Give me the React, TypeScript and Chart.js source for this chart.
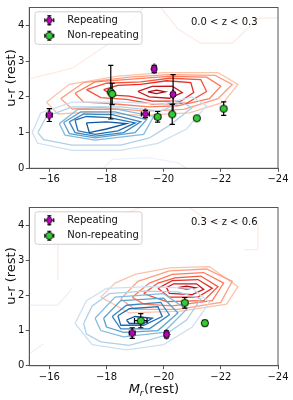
import React, { useEffect, useRef } from 'react';
import { Chart, registerables } from 'chart.js';
Chart.register(...registerables);

type P = [number, number];

const FONT = "'DejaVu Sans', sans-serif";
const MAG = '#bf00bf';
const GRN = '#33cc33';

const xTicks = [-16, -18, -20, -22, -24];
const yTicks = [0, 1, 2, 3, 4];
const legendLabels = ['Repeating', 'Non-repeating'];
const yTitle = 'u-r (rest)';

// ---------- panel 1 (0.0 < z < 0.3) ----------
const p1Note = '0.0 < z < 0.3';
const p1RepX = [-16.0, -19.67, -19.36, -20.33];
const p1RepY = [1.49, 2.78, 1.52, 2.07];
const p1RepErrY = [0.18, 0.1, 0.1, 0.55];
const p1RepErrX = [0.1, 0.08, 0.14, 0.08];
const p1NonX = [-18.15, -18.2, -19.79, -20.3, -21.16, -22.1];
const p1NonY = [2.13, 2.08, 1.44, 1.51, 1.4, 1.67];
const p1NonErrY = [0.75, 0.3, 0.15, 0.28, 0.05, 0.19];
const p1NonErrX = [0.08, 0.08, 0.1, 0.08, 0.08, 0.08];

const p1Red: P[][] = [
  [[-19.45, 2.14], [-19.75, 2.19], [-20.05, 2.14], [-19.75, 2.09], [-19.45, 2.14]],
  [[-19.1, 2.15], [-19.6, 2.29], [-20.3, 2.3], [-20.65, 2.12], [-20.2, 1.96], [-19.5, 2.0], [-19.1, 2.15]],
  [[-17.9, 2.2], [-18.4, 2.32], [-19.2, 2.35], [-20.1, 2.45], [-20.95, 2.4], [-21.05, 2.12], [-20.6, 1.88], [-19.6, 1.88], [-18.8, 2.02], [-18.2, 2.05], [-17.9, 2.2]],
  [[-17.3, 2.2], [-18.0, 2.38], [-19.2, 2.42], [-20.2, 2.52], [-21.3, 2.48], [-21.5, 2.15], [-20.8, 1.82], [-19.6, 1.8], [-18.7, 1.93], [-17.8, 1.98], [-17.3, 2.2]],
  [[-16.9, 2.1], [-17.6, 2.42], [-19.0, 2.5], [-20.2, 2.57], [-21.5, 2.55], [-22.0, 2.3], [-21.6, 1.95], [-20.5, 1.75], [-19.5, 1.72], [-18.0, 1.82], [-17.2, 1.85], [-16.9, 2.1]],
  [[-16.4, 1.95], [-17.2, 2.4], [-18.8, 2.55], [-20.2, 2.62], [-21.8, 2.6], [-22.4, 2.35], [-21.9, 1.95], [-20.7, 1.65], [-19.4, 1.6], [-17.8, 1.7], [-16.8, 1.66], [-16.4, 1.95]],
  [[-15.9, 1.85], [-16.7, 2.35], [-18.4, 2.58], [-20.0, 2.68], [-21.9, 2.68], [-22.6, 2.35], [-22.1, 1.85], [-20.9, 1.55], [-19.2, 1.48], [-17.5, 1.58], [-16.3, 1.52], [-15.9, 1.85]],
];
const p1RedFaint: P[][] = [
  [[-15.3, 2.5], [-16.8, 2.8], [-18.1, 3.5], [-19.3, 4.5]],
  [[-19.9, 4.5], [-20.5, 3.9], [-21.3, 3.5], [-22.4, 3.5], [-23.3, 4.2], [-24.0, 4.2]],
];
const p1Blue: P[][] = [
  [[-17.3, 1.27], [-18.0, 1.3], [-18.7, 1.25], [-18.0, 1.1], [-17.4, 1.0], [-17.3, 1.27]],
  [[-16.9, 1.35], [-17.3, 1.45], [-18.1, 1.42], [-19.0, 1.27], [-18.4, 1.05], [-17.6, 0.95], [-17.0, 1.05], [-16.9, 1.35]],
  [[-16.7, 1.3], [-17.2, 1.52], [-18.2, 1.5], [-19.2, 1.3], [-18.6, 1.0], [-17.6, 0.9], [-16.9, 1.0], [-16.7, 1.3]],
  [[-16.5, 1.28], [-17.1, 1.58], [-18.3, 1.58], [-19.4, 1.36], [-19.0, 1.0], [-17.6, 0.85], [-16.7, 0.97], [-16.5, 1.28]],
  [[-16.35, 1.25], [-17.0, 1.65], [-18.4, 1.65], [-19.65, 1.45], [-19.3, 0.95], [-17.6, 0.79], [-16.55, 0.93], [-16.35, 1.25]],
  [[-15.6, 1.0], [-15.9, 1.45], [-16.8, 1.72], [-18.5, 1.72], [-19.9, 1.6], [-20.6, 1.85], [-21.0, 1.7], [-20.2, 1.2], [-19.5, 0.85], [-18.5, 0.65], [-16.8, 0.65], [-15.8, 0.8], [-15.6, 1.0]],
  [[-15.4, 1.0], [-15.7, 1.55], [-16.8, 1.85], [-18.5, 1.85], [-20.0, 1.8], [-21.0, 2.0], [-21.5, 1.75], [-20.8, 1.1], [-19.8, 0.7], [-18.5, 0.5], [-16.8, 0.5], [-15.6, 0.7], [-15.4, 1.0]],
];
const p1BlueFaint: P[][] = [
  [[-17.9, 0.0], [-18.2, 0.25], [-19.5, 0.3], [-20.5, 0.15], [-20.8, 0.0]],
];

// ---------- panel 2 (0.3 < z < 0.6) ----------
const p2Note = '0.3 < z < 0.6';
const p2RepX = [-18.9, -20.1];
const p2RepY = [0.93, 0.89];
const p2RepErrY = [0.15, 0.1];
const p2RepErrX = [0.1, 0.08];
const p2NonX = [-19.2, -20.74, -21.44];
const p2NonY = [1.28, 1.79, 1.21];
const p2NonErrY = [0.2, 0.15, 0.08];
const p2NonErrX = [0.22, 0.08, 0.08];

const p2Red: P[][] = [
  [[-20.5, 2.22], [-20.8, 2.26], [-21.1, 2.22], [-20.8, 2.18], [-20.5, 2.22]],
  [[-20.1, 2.22], [-20.35, 2.33], [-21.15, 2.33], [-21.4, 2.17], [-21.0, 2.02], [-20.2, 2.06], [-20.1, 2.22]],
  [[-19.8, 2.2], [-20.3, 2.42], [-21.2, 2.45], [-21.7, 2.2], [-21.2, 1.95], [-20.2, 1.95], [-19.8, 2.2]],
  [[-19.3, 2.05], [-19.8, 2.35], [-20.4, 2.5], [-21.3, 2.55], [-21.9, 2.25], [-21.4, 1.85], [-20.1, 1.82], [-19.3, 2.05]],
  [[-18.9, 1.95], [-19.5, 2.35], [-20.3, 2.6], [-21.4, 2.65], [-22.1, 2.35], [-21.7, 1.85], [-20.3, 1.7], [-19.3, 1.75], [-18.9, 1.95]],
  [[-18.5, 1.9], [-19.1, 2.4], [-20.2, 2.7], [-21.5, 2.75], [-22.4, 2.4], [-22.0, 1.8], [-20.5, 1.6], [-19.0, 1.6], [-18.5, 1.9]],
  [[-17.8, 1.95], [-18.3, 2.35], [-19.0, 2.6], [-20.2, 2.78], [-21.6, 2.82], [-22.6, 2.25], [-22.2, 1.75], [-20.6, 1.55], [-18.8, 1.5], [-17.8, 1.95]],
];
const p2RedFaint: P[][] = [
  [[-16.3, 2.45], [-16.3, 3.5], [-17.3, 3.5], [-18.2, 4.2], [-19.2, 4.5]],
  [[-20.9, 4.5], [-21.6, 4.1], [-23.3, 4.1], [-23.3, 3.3], [-22.8, 3.3]],
];
const p2Blue: P[][] = [
  [[-18.7, 1.3], [-19.0, 1.4], [-19.6, 1.35], [-19.3, 1.2], [-18.8, 1.2], [-18.7, 1.3]],
  [[-18.4, 1.42], [-18.8, 1.62], [-19.8, 1.68], [-19.95, 1.4], [-19.3, 1.15], [-18.5, 1.15], [-18.4, 1.42]],
  [[-18.2, 1.4], [-18.7, 1.72], [-19.9, 1.8], [-20.2, 1.45], [-19.5, 1.05], [-18.5, 1.05], [-18.2, 1.4]],
  [[-17.9, 1.35], [-18.5, 1.85], [-20.0, 1.92], [-20.5, 1.5], [-19.8, 1.0], [-18.6, 0.95], [-18.0, 1.1], [-17.9, 1.35]],
  [[-17.6, 1.35], [-18.3, 1.95], [-20.0, 2.05], [-20.8, 1.6], [-20.0, 0.95], [-18.6, 0.82], [-17.8, 1.0], [-17.6, 1.35]],
  [[-17.2, 1.2], [-17.5, 1.7], [-18.1, 2.05], [-19.3, 2.12], [-20.5, 2.1], [-21.3, 1.9], [-20.8, 1.3], [-20.0, 0.85], [-18.8, 0.58], [-17.8, 0.68], [-17.3, 0.9], [-17.2, 1.2]],
  [[-16.9, 1.2], [-17.3, 1.85], [-18.0, 2.2], [-19.5, 2.25], [-21.0, 2.2], [-21.6, 1.8], [-21.0, 1.1], [-20.0, 0.6], [-18.7, 0.45], [-17.5, 0.6], [-16.9, 1.2]],
];
const p2BlueFaint: P[][] = [
  [[-15.3, 1.72], [-16.3, 1.72], [-16.8, 2.2]],
  [[-15.3, 0.34], [-15.8, 0.62]],
];

const REDS = ['#a50f15', '#c9181d', '#e32f27', '#f5553c', '#fb7d5d', '#fca082', '#fcc3ab'];
const BLUES = ['#0c56a0', '#1f6eb3', '#3a87c0', '#5ba2d0', '#85bcdc', '#aed0e7', '#cde0f1'];
const RED_FAINT = '#fdece4';
const BLUE_FAINT = '#ebf2fa';

function makeDiamond(): HTMLCanvasElement {
  const c = document.createElement('canvas');
  c.width = 8; c.height = 11;
  const g = c.getContext('2d')!;
  g.beginPath();
  g.moveTo(4, 0.6); g.lineTo(7.2, 5.5); g.lineTo(4, 10.4); g.lineTo(0.8, 5.5); g.closePath();
  g.fillStyle = MAG; g.fill();
  g.lineWidth = 0.9; g.strokeStyle = '#000'; g.stroke();
  return c;
}
function makeCircle(): HTMLCanvasElement {
  const c = document.createElement('canvas');
  c.width = 10; c.height = 10;
  const g = c.getContext('2d')!;
  g.beginPath(); g.arc(5, 5, 3.6, 0, Math.PI * 2);
  g.fillStyle = GRN; g.fill();
  g.lineWidth = 0.9; g.strokeStyle = '#000'; g.stroke();
  return c;
}

const fmt = (v: number) => (v < 0 ? '\u2212' + Math.abs(v) : String(v));

function poly(points: P[], color: string, order: number) {
  return {
    data: points.map(([x, y]) => ({ x, y })),
    showLine: true, pointRadius: 0, borderColor: color, borderWidth: 1.3,
    fill: false, tension: 0, order,
  };
}
function vBars(xs: number[], ys: number[], es: number[]) {
  const d: any[] = [];
  xs.forEach((x, i) => { d.push({ x, y: ys[i] - es[i] }, { x, y: ys[i] + es[i] }, { x, y: null }); });
  return {
    data: d, showLine: true, spanGaps: false, borderColor: '#000', borderWidth: 1.2,
    pointStyle: 'line', pointRadius: 2.6, pointBorderColor: '#000', pointBorderWidth: 1.2, order: 2,
  };
}
function hBars(xs: number[], ys: number[], es: number[]) {
  const d: any[] = [];
  xs.forEach((x, i) => { d.push({ x: x + es[i], y: ys[i] }, { x: x - es[i], y: ys[i] }, { x, y: null }); });
  return {
    data: d, showLine: true, spanGaps: false, borderColor: '#000', borderWidth: 1.2,
    pointStyle: 'line', pointRotation: 90, pointRadius: 2.6, pointBorderColor: '#000', pointBorderWidth: 1.2, order: 2,
  };
}

interface PanelCfg {
  note: string;
  repX: number[]; repY: number[]; repEY: number[]; repEX: number[];
  nonX: number[]; nonY: number[]; nonEY: number[]; nonEX: number[];
  red: P[][]; redFaint: P[][]; blue: P[][]; blueFaint: P[][];
  padTop: number; xAxisH: number; titleY: number; xTitle: boolean;
}

const panel1: PanelCfg = {
  note: p1Note, repX: p1RepX, repY: p1RepY, repEY: p1RepErrY, repEX: p1RepErrX,
  nonX: p1NonX, nonY: p1NonY, nonEY: p1NonErrY, nonEX: p1NonErrX,
  red: p1Red, redFaint: p1RedFaint, blue: p1Blue, blueFaint: p1BlueFaint,
  padTop: 4, xAxisH: 31.7, titleY: 78, xTitle: false,
};
const panel2: PanelCfg = {
  note: p2Note, repX: p2RepX, repY: p2RepY, repEY: p2RepErrY, repEX: p2RepErrX,
  nonX: p2NonX, nonY: p2NonY, nonEY: p2NonErrY, nonEX: p2NonErrX,
  red: p2Red, redFaint: p2RedFaint, blue: p2Blue, blueFaint: p2BlueFaint,
  padTop: 2, xAxisH: 34.3, titleY: 76, xTitle: true,
};

function Panel({ cfg }: { cfg: PanelCfg }) {
  const ref = useRef<HTMLCanvasElement>(null);
  useEffect(() => {
    const diamond = makeDiamond();
    const circle = makeCircle();
    const datasets: any[] = [];
    cfg.redFaint.forEach((p) => datasets.push(poly(p, RED_FAINT, 30)));
    cfg.blueFaint.forEach((p) => datasets.push(poly(p, BLUE_FAINT, 30)));
    cfg.red.forEach((p, i) => datasets.push(poly(p, REDS[i], 20 + i)));
    cfg.blue.forEach((p, i) => datasets.push(poly(p, BLUES[i], 10 + i)));
    datasets.push(vBars(cfg.repX, cfg.repY, cfg.repEY));
    datasets.push(hBars(cfg.repX, cfg.repY, cfg.repEX));
    datasets.push(vBars(cfg.nonX, cfg.nonY, cfg.nonEY));
    datasets.push(hBars(cfg.nonX, cfg.nonY, cfg.nonEX));
    datasets.push({
      label: legendLabels[0], data: cfg.repX.map((x, i) => ({ x, y: cfg.repY[i] })),
      pointStyle: diamond, pointRadius: 5, showLine: false, order: 0,
    });
    datasets.push({
      label: legendLabels[1], data: cfg.nonX.map((x, i) => ({ x, y: cfg.nonY[i] })),
      pointStyle: circle, pointRadius: 5, showLine: false, order: 0,
    });

    const deco = {
      id: 'deco',
      afterDraw(chart: any) {
        const ctx = chart.ctx as CanvasRenderingContext2D;
        const a = chart.chartArea;
        ctx.save();
        ctx.strokeStyle = '#555';
        ctx.lineWidth = 1;
        ctx.strokeRect(a.left, a.top, a.right - a.left, a.bottom - a.top);
        const lx = a.left + 5.7, ly = a.top + 4.3, lw = 107, lh = 32.5;
        ctx.beginPath();
        const r = 2.5;
        ctx.moveTo(lx + r, ly);
        ctx.arcTo(lx + lw, ly, lx + lw, ly + lh, r);
        ctx.arcTo(lx + lw, ly + lh, lx, ly + lh, r);
        ctx.arcTo(lx, ly + lh, lx, ly, r);
        ctx.arcTo(lx, ly, lx + lw, ly, r);
        ctx.closePath();
        ctx.fillStyle = 'rgba(255,255,255,0.8)';
        ctx.fill();
        ctx.strokeStyle = '#d0d0d0';
        ctx.lineWidth = 1;
        ctx.stroke();
        const rows = [ly + 8.4, ly + 24];
        const imgs = [diamond, circle];
        const mx = a.left + 20;
        rows.forEach((ry, i) => {
          ctx.strokeStyle = '#000';
          ctx.lineWidth = 1.1;
          ctx.beginPath();
          ctx.moveTo(mx, ry - 4.5); ctx.lineTo(mx, ry + 4.5);
          ctx.moveTo(mx - 4.5, ry); ctx.lineTo(mx + 4.5, ry);
          ctx.moveTo(mx - 2, ry - 4.5); ctx.lineTo(mx + 2, ry - 4.5);
          ctx.moveTo(mx - 2, ry + 4.5); ctx.lineTo(mx + 2, ry + 4.5);
          ctx.moveTo(mx - 4.5, ry - 2); ctx.lineTo(mx - 4.5, ry + 2);
          ctx.moveTo(mx + 4.5, ry - 2); ctx.lineTo(mx + 4.5, ry + 2);
          ctx.stroke();
          const im = imgs[i];
          ctx.drawImage(im, mx - im.width / 2, ry - im.height / 2);
          ctx.fillStyle = '#111';
          ctx.font = `10px ${FONT}`;
          ctx.textAlign = 'left';
          ctx.textBaseline = 'middle';
          ctx.fillText(legendLabels[i], a.left + 38, ry);
        });
        ctx.fillStyle = '#111';
        ctx.font = `10px ${FONT}`;
        ctx.textAlign = 'left';
        ctx.textBaseline = 'middle';
        ctx.fillText(cfg.note, 191, a.top + 14.5);
        ctx.save();
        ctx.translate(12, cfg.titleY);
        ctx.rotate(-Math.PI / 2);
        ctx.font = `13px ${FONT}`;
        ctx.textAlign = 'center';
        ctx.textBaseline = 'middle';
        ctx.fillText(yTitle, 0, 0);
        ctx.restore();
        if (cfg.xTitle) {
          const cx = (a.left + a.right) / 2;
          const ty = 190;
          const f1 = `italic 13px ${FONT}`;
          const f2 = `italic 9px ${FONT}`;
          const f3 = `13px ${FONT}`;
          ctx.font = f1; const w1 = ctx.measureText('M').width;
          ctx.font = f2; const w2 = ctx.measureText('r').width;
          ctx.font = f3; const w3 = ctx.measureText('(rest)').width;
          let x0 = cx - (w1 + w2 + w3) / 2;
          ctx.textAlign = 'left';
          ctx.textBaseline = 'middle';
          ctx.font = f1; ctx.fillText('M', x0, ty); x0 += w1;
          ctx.font = f2; ctx.fillText('r', x0, ty + 3.5); x0 += w2 + 0.5;
          ctx.font = f3; ctx.fillText('(rest)', x0, ty);
        }
        ctx.restore();
      },
    };

    const chart = new Chart(ref.current!, {
      type: 'scatter',
      data: { datasets },
      options: {
        animation: false,
        responsive: false,
        events: [],
        layout: { padding: { top: cfg.padTop, right: 15, left: 0, bottom: 0 } },
        plugins: { legend: { display: false }, tooltip: { enabled: false } },
        scales: {
          x: {
            type: 'linear', min: -24, max: -15.3, reverse: true,
            afterBuildTicks: (s: any) => { s.ticks = xTicks.map((v) => ({ value: v })); },
            afterFit: (s: any) => { s.height = cfg.xAxisH; },
            ticks: { callback: (v: any) => fmt(Number(v)), font: { family: FONT, size: 10 }, color: '#111', padding: 2, maxRotation: 0, autoSkip: false },
            grid: { drawOnChartArea: false, drawTicks: true, tickLength: 3.5, tickColor: '#555', color: '#555' },
            border: { display: true, color: '#555' },
          },
          y: {
            type: 'linear', min: 0, max: 4.5,
            afterBuildTicks: (s: any) => { s.ticks = yTicks.map((v) => ({ value: v })); },
            afterFit: (s: any) => { s.width = 29.3; },
            ticks: { callback: (v: any) => fmt(Number(v)), font: { family: FONT, size: 10 }, color: '#111', padding: 1.5, autoSkip: false },
            grid: { drawOnChartArea: false, drawTicks: true, tickLength: 3.5, tickColor: '#555', color: '#555' },
            border: { display: true, color: '#555' },
          },
        },
      } as any,
      plugins: [deco],
    });
    return () => chart.destroy();
  }, []);
  return <canvas ref={ref} width={293} height={200} style={{ display: 'block', width: 293, height: 200 }} />;
}

export default function App() {
  return (
    <div style={{ position: 'absolute', left: 0, top: 0, width: 293, height: 400, background: '#fff' }}>
      <Panel cfg={panel1} />
      <Panel cfg={panel2} />
    </div>
  );
}
